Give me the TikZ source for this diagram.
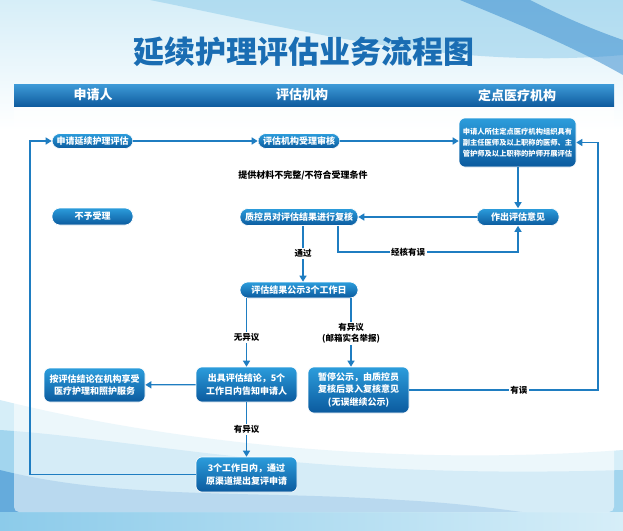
\documentclass[tikz,border=0pt]{standalone}
\usepackage{fontspec}
\setmainfont{Noto Sans CJK SC}
\usetikzlibrary{arrows.meta}
\definecolor{flowblue}{HTML}{1F7DC1}
\definecolor{boxtop}{HTML}{2C9DDC}
\definecolor{boxbot}{HTML}{0B5A9E}
\definecolor{bartop}{HTML}{3E9BD8}
\definecolor{barbot}{HTML}{0F5C9F}
\definecolor{titleblue}{HTML}{1A6DB3}
\definecolor{skyA}{HTML}{D6EEF8}
\definecolor{skyB}{HTML}{8CCBEA}
\definecolor{skyC}{HTML}{3D8FD0}
\begin{document}
\begin{tikzpicture}[
  flowbox/.style={rounded corners=6pt, top color=boxtop, bottom color=boxbot,
    draw=white, line width=0.6pt, text=white, align=center, inner sep=1pt,
    font=\bfseries\fontsize{9}{12.5}\selectfont},
  pill/.style={flowbox, rounded corners=8pt},
  headtxt/.style={text=white, font=\bfseries\fontsize{13}{13}\selectfont},
  link/.style={draw=flowblue, line width=1.3pt, -{Triangle[length=6pt,width=7pt]}},
  lbl/.style={fill=white, text=black, inner sep=1.5pt, align=center,
    font=\bfseries\fontsize{8.5}{11}\selectfont}]
\begin{scope}[x=1pt,y=-1pt]
\useasboundingbox (0,0) rectangle (623,530);
\fill [white] (0,0) rectangle (623,530);
\shade [top color=skyA, bottom color=white] (0,0) rectangle (623,130);
\fill [skyB, opacity=0.5] (150,0) .. controls (300,30) and (450,70) .. (623,55)
  -- (623,0) -- cycle;
\fill [skyC, opacity=0.55] (460,0) .. controls (520,25) and (570,45) .. (623,75)
  -- (623,40) .. controls (580,25) and (550,10) .. (530,0) -- cycle;
\fill [skyA] (0,400) .. controls (120,430) and (350,470) .. (623,450)
  -- (623,530) -- (0,530) -- cycle;
\fill [skyB, opacity=0.7] (0,430) .. controls (150,440) and (300,480) .. (623,470)
  -- (623,530) -- (0,530) -- cycle;
\fill [skyC, opacity=0.6] (0,470) .. controls (120,500) and (250,490) .. (400,500)
  .. controls (500,505) and (560,520) .. (623,525) -- (623,530) -- (0,530) -- cycle;
\shade [left color=skyB, middle color=barbot, right color=skyA] (0,512) rectangle (623,530);
\fill [white, fill opacity=0.55, rounded corners=5pt] (14,84) rectangle (614,512);
% \draw [red] (14,84) rectangle (614,512);
\node [text=titleblue, font=\bfseries\fontsize{31}{31}\selectfont] (title) at (304,52)
  {延续护理评估业务流程图};
\shade [top color=bartop, bottom color=barbot] (14,84) rectangle (614,106);
\node [headtxt] (applicant) at (93,95) {申请人};
\node [headtxt] (assessor) at (302,95) {评估机构};
\node [headtxt] (hospital) at (517,95) {定点医疗机构};
\node [pill, minimum width=81pt, minimum height=15pt] (apply) at (92.5,141) {申请延续护理评估};
\node [pill, minimum width=82pt, minimum height=15pt] (accept) at (299,141) {评估机构受理审核};
\node [flowbox, minimum width=117pt, minimum height=49pt,
  font=\bfseries\fontsize{7.3}{11}\selectfont] (evalorg) at (517.5,142.5)
  {申请人所住定点医疗机构组织具有\\副主任医师及以上职称的医师、主\\管护师及以上职称的护师开展评估};
\node [text=black, font=\bfseries\fontsize{9}{11}\selectfont] (incomplete) at (303,175)
  {提供材料不完整/不符合受理条件};
\node [pill, minimum width=81pt, minimum height=17pt] (reject) at (92.5,216.5) {不予受理};
\node [pill, minimum width=118pt, minimum height=17pt] (review) at (299,217) {质控员对评估结果进行复核};
\node [pill, minimum width=82pt, minimum height=17pt] (opinion) at (518,217) {作出评估意见};
\node [pill, minimum width=118pt, minimum height=16pt] (publish) at (299,290) {评估结果公示3个工作日};
\node [flowbox, minimum width=101pt, minimum height=35pt] (conclude) at (246.5,384.5)
  {出具评估结论，5个\\工作日内告知申请人};
\node [flowbox, minimum width=101pt, minimum height=46pt] (suspend) at (358.5,390)
  {暂停公示，由质控员\\复核后录入复核意见\\(无误继续公示)};
\node [flowbox, minimum width=101pt, minimum height=34pt] (service) at (94.5,385)
  {按评估结论在机构享受\\医疗护理和照护服务};
\node [flowbox, minimum width=101pt, minimum height=35pt] (reapply) at (246.5,474.5)
  {3个工作日内，通过\\原渠道提出复评申请};
\coordinate (errturn) at (338,252);
\coordinate (rightrail) at (598,390);
\coordinate (leftrail) at (30,474.5);
\draw [link] (apply) -- (accept);
\draw [link] (accept.east) -- (accept.east -| evalorg.west);
\draw [link] (evalorg.south -| opinion) -- (opinion);
\draw [link] (opinion) -- (review);
\draw [link] (review.south -| errturn) -- (errturn)
  -- node [lbl, pos=0.39] {经核有误} (errturn -| opinion) -- (opinion);
\draw [link] ([xshift=4pt]review.south) -- node [lbl] {通过} ([xshift=4pt]publish.north);
\draw [link] (publish.south -| conclude) -- node [lbl, pos=0.57] {无异议} (conclude);
\draw [link] ([xshift=52pt]publish.south)
  -- node [lbl, pos=0.51] {有异议\\(邮箱实名举报)} ([xshift=52pt]publish.south |- suspend.north);
\draw [link] (conclude) -- (service);
\draw [link] (conclude) -- node [lbl] {有异议} (reapply);
\draw [link] (suspend.east) -- node [lbl, pos=0.58] {有误} (rightrail) |- (evalorg);
\draw [link] (reapply) -- (leftrail) |- (apply);
\end{scope}
\end{tikzpicture}
\end{document}
